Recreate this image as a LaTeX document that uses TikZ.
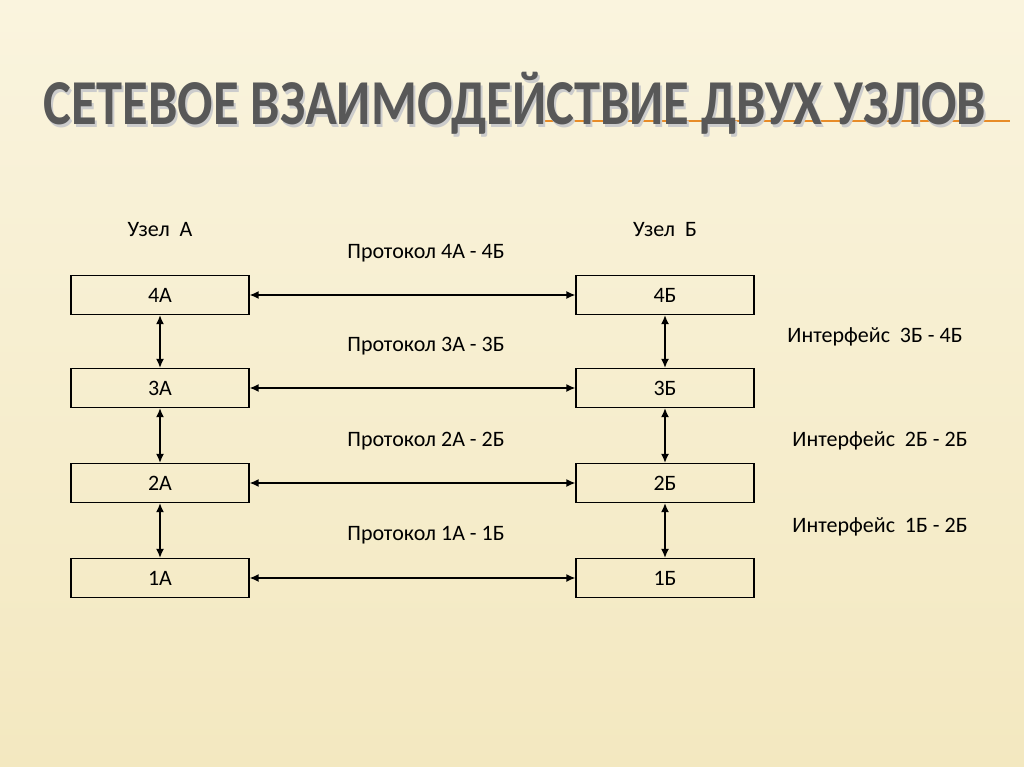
\documentclass[tikz,border=0pt]{standalone}
\usepackage{fontspec}
\usetikzlibrary{arrows.meta}
\setmainfont{Carlito}
\definecolor{bg}{RGB}{243,232,192}
\definecolor{bgl}{RGB}{250,244,222}
\definecolor{ttl}{RGB}{88,88,88}
\definecolor{org}{RGB}{232,140,40}
\begin{document}
\begin{tikzpicture}[x=1pt,y=-1pt,
 lay/.style={draw,line width=1.2pt,minimum width=178pt,minimum height=39pt,inner sep=0pt,font=\fontsize{22}{25}\selectfont},
 lbl/.style={font=\fontsize{22}{25}\selectfont},
 arr/.style={line width=1.5pt,{Latex[length=9pt,width=8pt]}-{Latex[length=9pt,width=8pt]}}]
\useasboundingbox (0,0) rectangle (1024,767);
\shade[top color=bgl,bottom color=bg] (0,0) rectangle (1024,767);
\draw[org,line width=1.5pt] (540,121) -- (1010,121);
\node[text=black!20,font=\fontsize{64}{70}\selectfont\bfseries,xscale=0.82] at (517,106) {СЕТЕВОЕ ВЗАИМОДЕЙСТВИЕ ДВУХ УЗЛОВ};
\node[text=ttl,font=\fontsize{64}{70}\selectfont\bfseries,xscale=0.82] (t) at (515,103) {СЕТЕВОЕ ВЗАИМОДЕЙСТВИЕ ДВУХ УЗЛОВ};
\foreach \n/\y in {4/295,3/388,2/483,1/578}{
 \node[lay] (a\n) at (160,\y) {\n А};
 \node[lay] (b\n) at (665,\y) {\n Б};
 \draw[arr] (a\n) -- (b\n);
}
\foreach \u/\l in {4/3,3/2,2/1}{
 \draw[arr] (a\u) -- (a\l);
 \draw[arr] (b\u) -- (b\l);
}
\node[lbl] (ua) at (160,230) {Узел\ \ А};
\node[lbl] (ub) at (665,230) {Узел\ \ Б};
\node[lbl] (p4) at (426,253) {Протокол 4А - 4Б};
\node[lbl] (p3) at (426,346) {Протокол 3А - 3Б};
\node[lbl] (p2) at (426,441) {Протокол 2А - 2Б};
\node[lbl] (p1) at (426,535) {Протокол 1А - 1Б};
\node[lbl] (i3) at (875,337) {Интерфейс\ \ 3Б - 4Б};
\node[lbl] (i2) at (880,441) {Интерфейс\ \ 2Б - 2Б};
\node[lbl] (i1) at (880,527) {Интерфейс\ \ 1Б - 2Б};
\end{tikzpicture}
\end{document}
